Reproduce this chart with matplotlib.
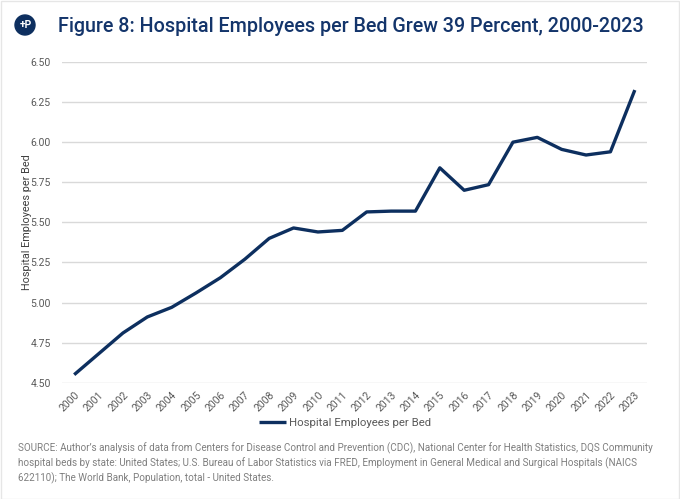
import matplotlib
matplotlib.use("Agg")
import matplotlib.pyplot as plt
from matplotlib.patches import Ellipse, Rectangle

years = [str(y) for y in range(2000, 2024)]
values = [4.55, 4.68, 4.81, 4.91, 4.97, 5.06, 5.155, 5.27, 5.40, 5.465, 5.44, 5.45,
          5.565, 5.57, 5.57, 5.84, 5.70, 5.735, 6.00, 6.03, 5.955, 5.92, 5.94, 6.325]
yticks = [4.50, 4.75, 5.00, 5.25, 5.50, 5.75, 6.00, 6.25, 6.50]
series_name = "Hospital Employees per Bed"
title = "Figure 8: Hospital Employees per Bed Grew 39 Percent, 2000-2023"
source = ("SOURCE: Author\u2019s analysis of data from Centers for Disease Control and Prevention (CDC), National Center for Health Statistics, DQS Community\n"
          "hospital beds by state: United States; U.S. Bureau of Labor Statistics via FRED, Employment in General Medical and Surgical Hospitals (NAICS\n"
          "622110); The World Bank, Population, total - United States.")

W, H = 680, 499
fig = plt.figure(figsize=(W / 100, H / 100), dpi=100)
fig.patch.set_facecolor("white")

navy = "#0d2f5f"
grey = "#595959"

ax = fig.add_axes([62 / W, 1 - 382.7 / H, (647 - 62) / W, (382.7 - 62) / H])
x = list(range(len(years)))
ax.plot(x, values, color=navy, lw=2.4, solid_capstyle="butt", label=series_name)
ax.set_xlim(-0.5, len(years) - 0.5)
ax.set_ylim(4.5, 6.5)
ax.set_yticks(yticks)
ax.set_yticklabels([f"{v:.2f}" for v in yticks], color=grey, fontsize=7.5, family="Roboto")
ax.set_xticks(x)
ax.set_xticklabels(years, rotation=45, ha="right", rotation_mode="anchor", color=grey,
                   fontsize=7.5, family="Roboto")
ax.grid(axis="y", color="#d9d9d9", lw=1)
ax.set_axisbelow(True)
for s in ax.spines.values():
    s.set_visible(False)
ax.tick_params(axis="both", length=0)
ax.tick_params(axis="y", pad=8)
ax.tick_params(axis="x", pad=5)
ax.set_ylabel("Hospital Employees per Bed", color="#404040", fontsize=7.8, family="Roboto", labelpad=-1)

leg = fig.legend(loc="center", bbox_to_anchor=(345 / W, 1 - 423 / H), frameon=False,
                 prop={"family": "Roboto", "size": 8.2}, handlelength=2.4, handletextpad=0.3)
for t in leg.get_texts():
    t.set_color(grey)

fig.text(58 / W, 1 - 26 / H, title, fontsize=14.2, color="#14356b", family="Roboto",
         fontweight="medium", va="center", ha="left")

fig.text(18 / W, 1 - 463 / H, source, fontsize=7.1, color="#7f7f7f", family="Roboto",
         va="center", ha="left", linespacing=1.4)

# logo
circ = Ellipse((25 / W, 1 - 25 / H), 20 / W, 20 / H, transform=fig.transFigure, color=navy)
fig.patches.append(circ)
fig.text(26 / W, 1 - 25.5 / H, "+P", fontsize=7.5, color="white", fontweight="bold",
         family="Roboto", ha="center", va="center")

fig.patches.append(Rectangle((0.5 / W, 0.5 / H), 1 - 1.5 / W, 1 - 1.5 / H, transform=fig.transFigure,
                             fill=False, ec="#e6e6e6", lw=1))

fig.savefig("out.png", dpi=100)
